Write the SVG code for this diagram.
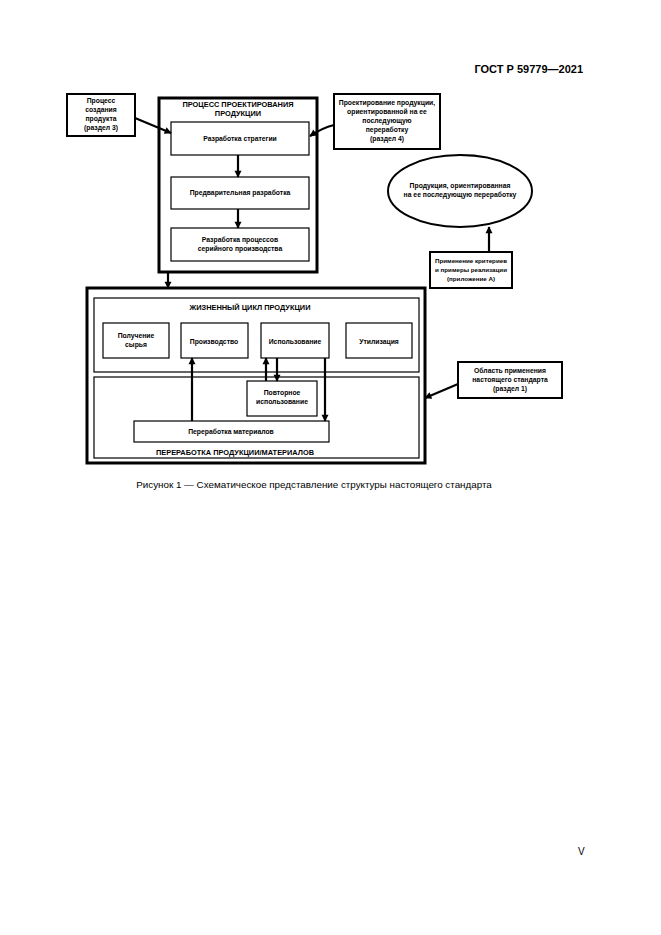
<svg xmlns="http://www.w3.org/2000/svg" width="661" height="935" viewBox="0 0 661 935">
<style>
text{font-family:"Liberation Sans",Arial,sans-serif;fill:#000}
.t{font-size:6.8px;font-weight:bold;text-anchor:middle}
.s{font-size:6.2px}
.h{font-size:7.4px;font-weight:bold;text-anchor:middle}
.thin{fill:#fff;stroke:#000;stroke-width:1.2}
.med{fill:#fff;stroke:#000;stroke-width:2}
.thick{fill:none;stroke:#000;stroke-width:3}
.c{fill:none;stroke:#000;stroke-width:2.2}
</style>
<defs>
<marker id="ah" viewBox="0 0 10 10" refX="9" refY="5" markerWidth="3.5" markerHeight="3.2" orient="auto" markerUnits="strokeWidth">
<path d="M0,0 L10,5 L0,10 z" fill="#000"/>
</marker>
</defs>
<rect width="661" height="935" fill="#fff"/>
<text x="583" y="73" font-size="11" font-weight="bold" text-anchor="end">ГОСТ Р 59779—2021</text>

<g id="design">
<rect x="159" y="98" width="158" height="174" class="thick"/>
<text class="h" x="238" y="107">ПРОЦЕСС ПРОЕКТИРОВАНИЯ</text>
<text class="h" x="238" y="116">ПРОДУКЦИИ</text>
</g>
<g id="strategy"><rect x="171" y="122" width="138" height="33" class="thin"/><text class="t" x="240" y="141">Разработка стратегии</text></g>
<g id="prelim"><rect x="171" y="177" width="138" height="32" class="thin"/><text class="t" x="240" y="195">Предварительная разработка</text></g>
<g id="serial"><rect x="171" y="228" width="138" height="33" class="thin"/><text class="t" x="240" y="242">Разработка процессов</text><text class="t" x="240" y="251">серийного производства</text></g>

<g id="create"><rect x="67" y="94" width="68" height="42" class="med"/>
<text class="t" x="101" y="103">Процесс</text><text class="t" x="101" y="112">создания</text><text class="t" x="101" y="121">продукта</text><text class="t" x="101" y="130">(раздел 3)</text></g>

<g id="designfor"><rect x="334" y="94" width="106" height="55" class="med"/>
<text class="t" x="387" y="105">Проектирование продукции,</text><text class="t" x="387" y="114">ориентированной на ее</text><text class="t" x="387" y="123">последующую</text><text class="t" x="387" y="132">переработку</text><text class="t" x="387" y="141">(раздел 4)</text></g>

<g id="product"><ellipse cx="460" cy="191" rx="72" ry="36" fill="#fff" stroke="#000" stroke-width="2"/>
<text class="t" x="460" y="188">Продукция, ориентированная</text><text class="t" x="460" y="197">на ее последующую переработку</text></g>

<g id="criteria"><rect x="430" y="252" width="82" height="36" class="med"/>
<text class="t s" x="471" y="263">Применение критериев</text><text class="t s" x="471" y="272">и примеры реализации</text><text class="t s" x="471" y="281">(приложение А)</text></g>

<g id="scope"><rect x="458" y="362" width="104" height="36" class="med"/>
<text class="t" x="510" y="373">Область применения</text><text class="t" x="510" y="382">настоящего стандарта</text><text class="t" x="510" y="391">(раздел 1)</text></g>

<g id="outer"><rect x="87" y="288" width="338" height="175" class="thick"/></g>
<g id="lifecycle"><rect x="94" y="298" width="325" height="74" class="thin"/><text class="h" x="250" y="310">ЖИЗНЕННЫЙ ЦИКЛ ПРОДУКЦИИ</text></g>
<g id="recycling"><rect x="94" y="377" width="325" height="81" class="thin"/><text class="h" x="235" y="455">ПЕРЕРАБОТКА ПРОДУКЦИИ/МАТЕРИАЛОВ</text></g>

<g id="raw"><rect x="103" y="323" width="66" height="35" class="thin"/><text class="t" x="136" y="338">Получение</text><text class="t" x="136" y="347">сырья</text></g>
<g id="production"><rect x="181" y="323" width="67" height="35" class="thin"/><text class="t" x="214" y="344">Производство</text></g>
<g id="use"><rect x="261" y="323" width="68" height="35" class="thin"/><text class="t" x="295" y="344">Использование</text></g>
<g id="disposal"><rect x="346" y="323" width="66" height="35" class="thin"/><text class="t" x="379" y="344">Утилизация</text></g>
<g id="reuse"><rect x="247" y="381" width="70" height="35" class="thin"/><text class="t" x="282" y="395">Повторное</text><text class="t" x="282" y="404">использование</text></g>
<g id="material"><rect x="134" y="421" width="195" height="21" class="thin"/><text class="t" x="231" y="434">Переработка материалов</text></g>

<g id="connectors">
<line x1="238" y1="155" x2="238" y2="177" class="c" marker-end="url(#ah)"/>
<line x1="238" y1="209" x2="238" y2="228" class="c" marker-end="url(#ah)"/>
<line x1="135" y1="118" x2="171" y2="133" class="c" marker-end="url(#ah)"/>
<path d="M334,125 Q322,128 310,136" class="c" marker-end="url(#ah)"/>
<line x1="489" y1="252" x2="489" y2="227" class="c" marker-end="url(#ah)"/>
<line x1="168" y1="272" x2="168" y2="288" class="c" marker-end="url(#ah)"/>
<line x1="458" y1="384" x2="425" y2="398" class="c" marker-end="url(#ah)"/>
<line x1="192" y1="421" x2="192" y2="358" class="c" marker-end="url(#ah)"/>
<line x1="266" y1="381" x2="266" y2="358" class="c" marker-end="url(#ah)"/>
<line x1="277" y1="358" x2="277" y2="381" class="c" marker-end="url(#ah)"/>
<line x1="325" y1="358" x2="325" y2="421" class="c" marker-end="url(#ah)"/>
</g>

<text x="314" y="488" font-size="9.8" text-anchor="middle">Рисунок 1 — Схематическое представление структуры настоящего стандарта</text>
<text x="578" y="855" font-size="10">V</text>
</svg>
